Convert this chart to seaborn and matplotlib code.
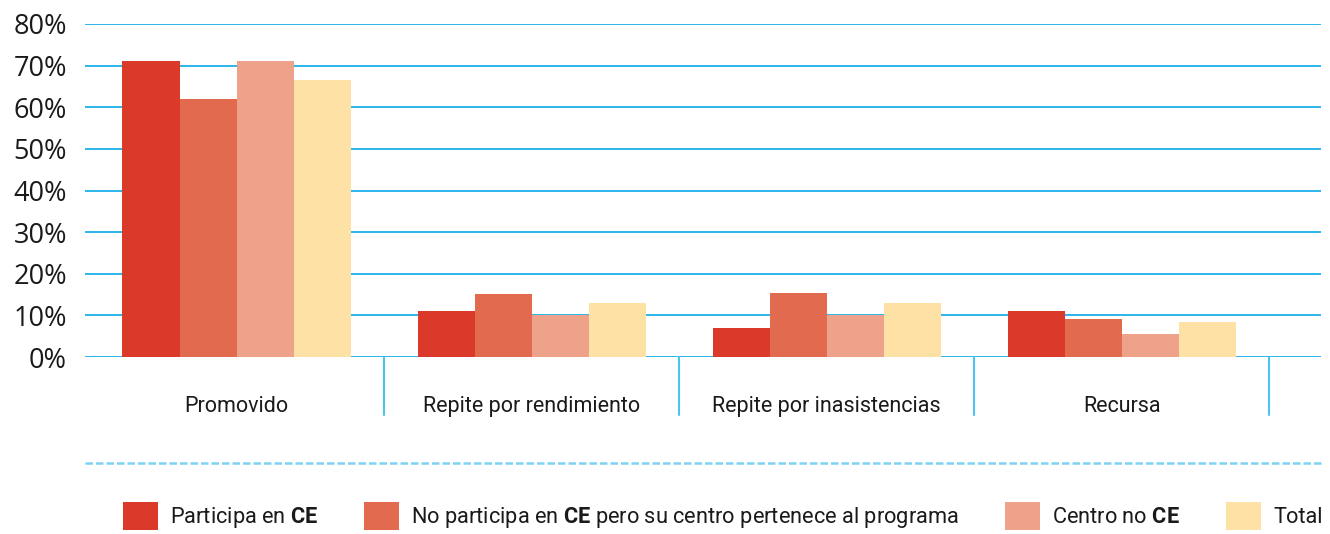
import matplotlib
matplotlib.use("Agg")
import matplotlib.pyplot as plt
import seaborn as sns
import pandas as pd
from matplotlib.lines import Line2D
import matplotlib.transforms as mtransforms

categories = ["Promovido", "Repite por rendimiento", "Repite por inasistencias", "Recursa"]
series = ["Participa en CE", "No participa en CE pero su centro pertenece al programa", "Centro no CE", "Total"]
legend_labels = ["Participa en $\\mathbf{CE}$",
                 "No participa en $\\mathbf{CE}$ pero su centro pertenece al programa",
                 "Centro no $\\mathbf{CE}$",
                 "Total"]
participa = [71.1, 11.0, 7.0, 11.0]
no_participa = [62.0, 15.1, 15.4, 9.1]
centro_no = [71.1, 10.1, 10.1, 5.5]
total = [66.5, 13.0, 13.0, 8.4]
yticks = [0, 10, 20, 30, 40, 50, 60, 70, 80]
ytick_labels = ["0%", "10%", "20%", "30%", "40%", "50%", "60%", "70%", "80%"]
colors = ["#DB3A2B", "#E26A4F", "#EEA28A", "#FEE2A5"]

rows = []
for s, vals in zip(series, [participa, no_participa, centro_no, total]):
    for c, v in zip(categories, vals):
        rows.append({"cat": c, "serie": s, "val": v})
df = pd.DataFrame(rows)

sns.set_style("white")
plt.rcParams["font.family"] = ["Roboto", "DejaVu Sans"]
plt.rcParams["mathtext.fontset"] = "custom"
plt.rcParams["mathtext.rm"] = "Roboto"
plt.rcParams["mathtext.bf"] = "Roboto:bold"

W, H = 1330, 534
fig = plt.figure(figsize=(W / 100, H / 100), dpi=100)
ax = fig.add_axes([85 / W, (H - 357) / H, (1321 - 85) / W, (357 - 24) / H])

grid_color = "#1BB0EA"
for y in yticks:
    ax.axhline(y, color=grid_color, lw=1.3, zorder=0)

sns.barplot(data=df, x="cat", y="val", hue="serie", hue_order=series, order=categories,
            palette=colors, width=0.773, saturation=1, ax=ax, errorbar=None, zorder=2,
            linewidth=0)

ax.set_ylim(0, 80)
ax.set_xlim(-0.5136, 3.676)
ax.set_yticks(yticks)
ax.set_yticklabels(ytick_labels, fontsize=19.5, color="#1a1a1a", family=["Open Sans", "DejaVu Sans"])
ax.tick_params(axis="y", length=0, pad=13)
ax.tick_params(axis="x", length=0, pad=28, labelsize=15.5, labelcolor="#1a1a1a")
ax.set_xlabel("")
ax.set_ylabel("")
for sp in ax.spines.values():
    sp.set_visible(False)

trans = mtransforms.blended_transform_factory(ax.transData, ax.transAxes)
for xb in [0.5, 1.5, 2.5, 3.5]:
    ax.add_line(Line2D([xb, xb], [0, -58 / 333], transform=trans, color="#4CC3F0",
                       lw=1.5, clip_on=False))

fig.add_artist(Line2D([85 / W, 1321 / W], [(H - 463) / H, (H - 463) / H],
                      transform=fig.transFigure, color="#7DD3F2", lw=1.8,
                      linestyle=(0, (3, 1.2))))

handles, _ = ax.get_legend_handles_labels()
ax.get_legend().remove()
fs = 15.7
fpx = fs * 100 / 72
fig.legend(handles, legend_labels, loc="lower left", bbox_to_anchor=(123 / W, 4 / H),
           ncol=4, frameon=False, fontsize=fs, borderpad=0, borderaxespad=0,
           handlelength=35 / fpx, handleheight=34 / fpx, handletextpad=12 / fpx,
           columnspacing=46 / fpx, labelcolor="#1a1a1a")

fig.savefig("out.png", dpi=100)
